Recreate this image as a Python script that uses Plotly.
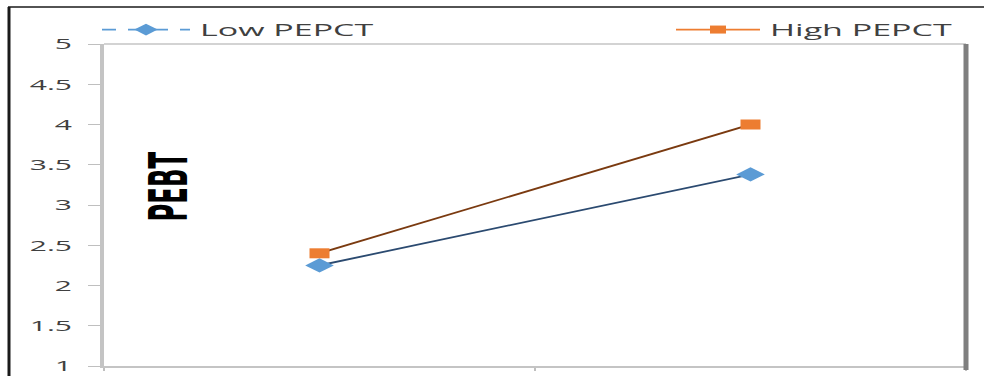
import plotly.graph_objects as go

# Moderation plot: PEBT at low vs high levels, split by PEPCT
levels = ["Low", "High"]
low_pepct = [2.25, 3.38]
high_pepct = [2.40, 4.00]
y_ticks = [1, 1.5, 2, 2.5, 3, 3.5, 4, 4.5, 5]
y_ticktext = ["1", "1.5", "2", "2.5", "3", "3.5", "4", "4.5", "5"]

BLUE = "#5B9BD5"
ORANGE = "#ED7D31"
NAVY = "#2B4A70"
BROWN = "#7A3A10"

W, H = 492, 376
ML, MR, MT, MB = 52, 9, 44, 10
PW, PH = W - ML - MR, H - MT - MB


def px(x):
    return (x - ML) / PW


def py(y):
    return (H - MB - y) / PH


fig = go.Figure()

# data lines
fig.add_trace(go.Scatter(
    x=levels, y=low_pepct, mode="lines+markers", showlegend=False,
    line=dict(color=NAVY, width=1.7),
    marker=dict(symbol="diamond", size=11, color=BLUE),
))
fig.add_trace(go.Scatter(
    x=levels, y=high_pepct, mode="lines+markers", showlegend=False,
    line=dict(color=BROWN, width=1.7),
    marker=dict(symbol="square", size=10, color=ORANGE),
))

# legend entries
fig.add_trace(go.Scatter(
    x=[None], y=[None], mode="lines+markers", name="Low PEPCT", legend="legend",
    line=dict(color=BLUE, width=1.8, dash="7px,6px"),
    marker=dict(symbol="diamond", size=9, color=BLUE),
))
fig.add_trace(go.Scatter(
    x=[None], y=[None], mode="lines+markers", name="High PEPCT", legend="legend2",
    line=dict(color=ORANGE, width=1.8),
    marker=dict(symbol="square", size=8, color=ORANGE),
))

legend_font = dict(family="Open Sans", size=17, color="#404040")

fig.update_layout(
    width=W, height=H, autosize=False,
    margin=dict(l=ML, r=MR, t=MT, b=MB, autoexpand=False),
    paper_bgcolor="white", plot_bgcolor="white",
    legend=dict(x=px(46), y=py(30), xanchor="left", yanchor="middle",
                orientation="h", font=legend_font, bgcolor="rgba(0,0,0,0)",
                itemwidth=44),
    legend2=dict(x=px(482), y=py(30), xanchor="right", yanchor="middle",
                 orientation="h", font=legend_font, bgcolor="rgba(0,0,0,0)",
                 itemwidth=42),
    xaxis=dict(
        type="category", categoryorder="array", categoryarray=levels,
        range=[-0.5, 1.5], showticklabels=False, showgrid=False, zeroline=False,
        tickson="boundaries", ticks="outside", ticklen=3, tickcolor="#BFBFBF",
        showline=True, linecolor="#C4C4C4", linewidth=2, fixedrange=True,
        automargin=False,
    ),
    yaxis=dict(
        range=[1, 5], tickvals=y_ticks, ticktext=y_ticktext,
        showgrid=False, zeroline=False, ticks="outside", ticklen=6,
        tickcolor="#BFBFBF", tickwidth=1, ticklabelstandoff=5,
        showline=True, linecolor="#C4C4C4", linewidth=2, automargin=False,
        tickfont=dict(family="Open Sans", size=15, color="#404040"),
    ),
    showlegend=True,
)

# plot-area frame: light top edge, darker right edge
fig.add_shape(type="line", xref="paper", yref="paper", x0=0, x1=1, y0=1, y1=1,
              line=dict(color="#C4C4C4", width=1.5))
fig.add_shape(type="line", xref="paper", yref="paper", x0=1, x1=1, y0=py(370), y1=1,
              line=dict(color="#7F7F7F", width=2.5))

# outer frame
fig.add_shape(type="line", xref="paper", yref="paper",
              x0=px(4), x1=px(W + 5), y0=py(7), y1=py(7),
              line=dict(color="#1A1A1A", width=1.6))
fig.add_shape(type="line", xref="paper", yref="paper",
              x0=px(4.5), x1=px(4.5), y0=py(7), y1=py(H + 5),
              line=dict(color="#1A1A1A", width=1.5))

# y-axis title placed inside the plot area
fig.add_annotation(
    text="<b>PEBT</b>", xref="paper", yref="paper", x=px(83.5), y=py(187),
    showarrow=False, textangle=-90, xanchor="center", yanchor="middle",
    font=dict(family="DejaVu Sans Condensed, DejaVu Sans", size=27, color="#000000"),
)

post = (
    "document.documentElement.style.margin='0';"
    "document.body.style.margin='0';"
    "document.body.style.overflow='hidden';"
    "var gd=document.getElementById('{plot_id}');"
    "gd.style.transformOrigin='0 0';"
    "gd.style.transform='scaleX(2)';"
)

fig.write_html("out.html", config={"displayModeBar": False}, post_script=post)
